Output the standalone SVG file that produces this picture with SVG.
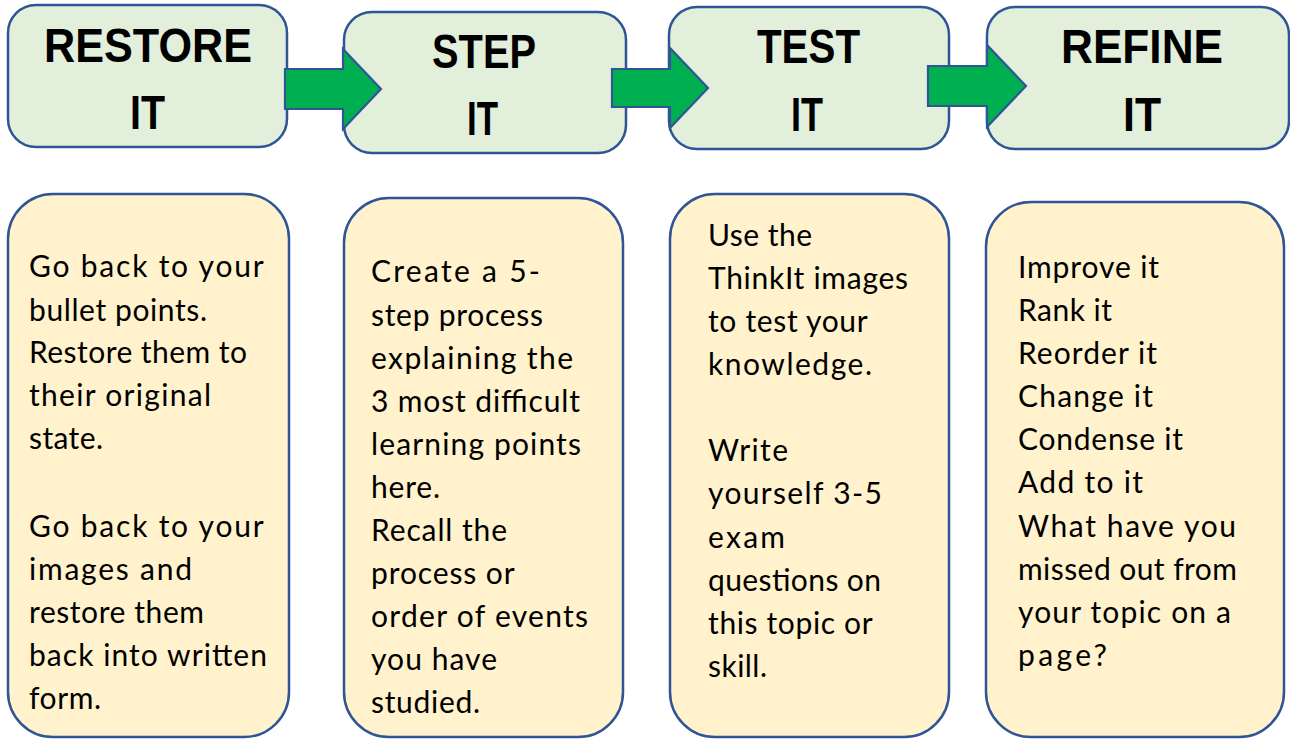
<svg xmlns="http://www.w3.org/2000/svg" width="1290" height="739" viewBox="0 0 1290 739">
<style>
.hd{fill:#E2EFDA;stroke:#2F5597;stroke-width:2.5}
.bd{fill:#FFF2CC;stroke:#2F5597;stroke-width:2.5}
.ar{fill:#00B050;stroke:#2F5597;stroke-width:2.2;stroke-linejoin:miter}
.ht{font-family:"Liberation Sans",Arial,sans-serif;font-weight:bold;font-size:48px;fill:#000;text-anchor:middle}
.bt{font-family:Lato,"Liberation Sans",sans-serif;font-size:30px;fill:#000}
</style>
<rect width="1290" height="739" fill="#FFFFFF"/>
<g id="restore-head">
<rect class="hd" x="8" y="5" width="279" height="142" rx="28"/>
<text class="ht" x="148" y="62" textLength="208" lengthAdjust="spacingAndGlyphs">RESTORE</text>
<text class="ht" x="147.5" y="129" textLength="35" lengthAdjust="spacingAndGlyphs">IT</text>
</g>
<g id="step-head">
<rect class="hd" x="344" y="12" width="282" height="141" rx="28"/>
<text class="ht" x="484" y="68" textLength="104" lengthAdjust="spacingAndGlyphs">STEP</text>
<text class="ht" x="482.5" y="135" textLength="31" lengthAdjust="spacingAndGlyphs">IT</text>
</g>
<g id="test-head">
<rect class="hd" x="669" y="7" width="280" height="142" rx="28"/>
<text class="ht" x="808.5" y="63" textLength="103" lengthAdjust="spacingAndGlyphs">TEST</text>
<text class="ht" x="807" y="131" textLength="32" lengthAdjust="spacingAndGlyphs">IT</text>
</g>
<g id="refine-head">
<rect class="hd" x="987" y="7" width="302" height="142" rx="28"/>
<text class="ht" x="1142" y="63" textLength="162" lengthAdjust="spacingAndGlyphs">REFINE</text>
<text class="ht" x="1142" y="131" textLength="38" lengthAdjust="spacingAndGlyphs">IT</text>
</g>
<g id="connectors">
<path class="ar" d="M285,69 H343 V49 L381,89 L343,129 V109 H285 Z"/>
<path class="ar" d="M612,69 H670 V48 L708,88 L670,128 V107 H612 Z"/>
<path class="ar" d="M928,66 H987 V45 L1026,86 L987,127 V106 H928 Z"/>
</g>
<g id="restore-body">
<rect class="bd" x="8" y="194" width="281" height="543" rx="45"/>
<text class="bt">
<tspan x="29" y="277" textLength="234">Go back to your</tspan>
<tspan x="29" y="321" textLength="178">bullet points.</tspan>
<tspan x="29" y="363" textLength="218">Restore them to</tspan>
<tspan x="29" y="406" textLength="182">their original</tspan>
<tspan x="29" y="449" textLength="74">state.</tspan>
<tspan x="29" y="537" textLength="234">Go back to your</tspan>
<tspan x="29" y="580" textLength="163">images and</tspan>
<tspan x="29" y="623" textLength="175">restore them</tspan>
<tspan x="29" y="666" textLength="238">back into written</tspan>
<tspan x="29" y="709" textLength="72">form.</tspan>
</text>
</g>
<g id="step-body">
<rect class="bd" x="344" y="198" width="279" height="539" rx="45"/>
<text class="bt">
<tspan x="371" y="282" textLength="169">Create a 5-</tspan>
<tspan x="371" y="326" textLength="172">step process</tspan>
<tspan x="371" y="369" textLength="202">explaining the</tspan>
<tspan x="371" y="412" textLength="209">3 most difficult</tspan>
<tspan x="371" y="455" textLength="210">learning points</tspan>
<tspan x="371" y="498" textLength="69">here.</tspan>
<tspan x="371" y="541" textLength="136">Recall the</tspan>
<tspan x="371" y="584" textLength="143">process or</tspan>
<tspan x="371" y="627" textLength="217">order of events</tspan>
<tspan x="371" y="670" textLength="126">you have</tspan>
<tspan x="371" y="713" textLength="109">studied.</tspan>
</text>
</g>
<g id="test-body">
<rect class="bd" x="670" y="194" width="279" height="543" rx="45"/>
<text class="bt">
<tspan x="708" y="246" textLength="104">Use the</tspan>
<tspan x="708" y="289" textLength="200">ThinkIt images</tspan>
<tspan x="708" y="332" textLength="159">to test your</tspan>
<tspan x="708" y="375" textLength="164">knowledge.</tspan>
<tspan x="708" y="461" textLength="80">Write</tspan>
<tspan x="708" y="504" textLength="174">yourself 3-5</tspan>
<tspan x="708" y="548" textLength="77">exam</tspan>
<tspan x="708" y="591" textLength="173">questions on</tspan>
<tspan x="708" y="634" textLength="164">this topic or</tspan>
<tspan x="708" y="677" textLength="59">skill.</tspan>
</text>
</g>
<g id="refine-body">
<rect class="bd" x="986" y="202" width="298" height="535" rx="45"/>
<text class="bt">
<tspan x="1018" y="278" textLength="141">Improve it</tspan>
<tspan x="1018" y="321" textLength="94">Rank it</tspan>
<tspan x="1018" y="364" textLength="139">Reorder it</tspan>
<tspan x="1018" y="407" textLength="135">Change it</tspan>
<tspan x="1018" y="450" textLength="165">Condense it</tspan>
<tspan x="1018" y="493" textLength="125">Add to it</tspan>
<tspan x="1018" y="537" textLength="218">What have you</tspan>
<tspan x="1018" y="580" textLength="219">missed out from</tspan>
<tspan x="1018" y="623" textLength="213">your topic on a</tspan>
<tspan x="1018" y="666" textLength="89">page?</tspan>
</text>
</g>
</svg>
